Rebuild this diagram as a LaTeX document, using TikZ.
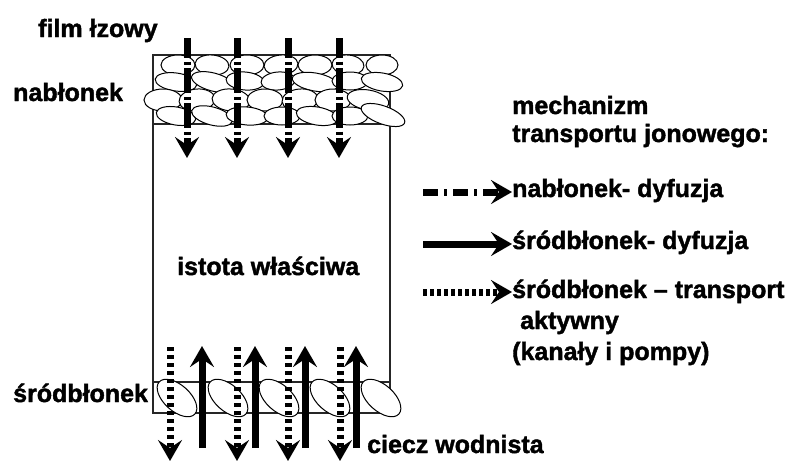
\documentclass[tikz,border=0pt]{standalone}
\usepackage{fontspec}
\setmainfont{Liberation Sans}[BoldFeatures={FakeBold=1.6}]
\usetikzlibrary{arrows.meta}

\tikzstyle{txt} = [font=\fontsize{25}{31}\selectfont\bfseries, inner sep=0pt, anchor=base west]
\tikzstyle{wall} = [draw=black!85, line width=1.3pt]
\tikzstyle{cell} = [draw=black, fill=white, line width=1pt]
\tikzstyle{flow} = [line width=7pt, -{Stealth[length=21pt,width=24pt,inset=8pt]}]
\tikzstyle{epiflow} = [flow, dash pattern=on 25pt off 3.5pt on 3pt off 3.5pt, dash phase=5pt]
\tikzstyle{pumpflow} = [flow, dash pattern=on 4pt off 4pt]

\begin{document}
\begin{tikzpicture}[x=1pt, y=-1pt]
\useasboundingbox (0,0) rectangle (790,461);

% Cornea block
\draw[wall] (153,55) rectangle (390,413);
\draw[wall] (153,124) -- (390,124);
\draw[wall] (153,382) -- (390,382);
\foreach \x in {205,257,307,358}
  \draw[wall] (\x,382) -- (\x,413);

% Epithelium cells
\foreach \cx/\cy/\rx/\ry/\rot in {
  178/65/17/10/0, 212/65/17/10/-5, 247/65/17/10/0, 281/65/17/10/5, 315/65/17/10/0, 348/65/16/10/-5, 382/65/16/10/0,
  176/82/21/9/-8, 213/82/22/9/-15, 245/81/19/9/-5, 278/81/17/9/5, 315/82/23/9/-10, 350/81/18/9/0, 382/82/21/9/-10,
  163/100/19/11/0, 197/100/18/11/5, 231/100/19/11/-5, 265/100/18/11/0, 300/100/18/11/5, 333/100/18/11/0, 368/100/21/10/-10,
  176/116/20/9/-10, 212/116/21/9/-15, 247/116/21/9/-5, 282/116/18/9/0, 317/116/21/9/-10, 350/116/18/9/0, 383/115/23/9/-20}
  \draw[cell, rotate around={\rot:(\cx,\cy)}] (\cx,\cy) ellipse [x radius=\rx, y radius=\ry];

% Endothelium cells
\foreach \cx in {177,228,279,330,381}
  \draw[cell, rotate around={-42:(\cx,398)}] (\cx,398) ellipse [x radius=24, y radius=13];

% Nodes
\node (film) [txt] at (38,37) {film łzowy};
\node (epi) [txt] at (13,101) {nabłonek};
\node (stroma) [txt] at (177,275) {istota właściwa};
\node (endo) [txt] at (13,402) {śródbłonek};
\node (aqueous) [txt] at (367,453) {ciecz wodnista};
\node (mech) [txt] at (512,114) {mechanizm};
\node (mechb) [txt] at (512,142) {transportu jonowego:};
\node (leg1) [txt] at (512,197) {nabłonek- dyfuzja};
\node (leg2) [txt] at (512,249) {śródbłonek- dyfuzja};
\node (leg3) [txt] at (512,298) {śródbłonek – transport};
\node (leg3b) [txt] at (520,329) {aktywny};
\node (leg3c) [txt] at (512,360) {(kanały i pompy)};

% Arrows through the epithelium
\foreach \x [count=\i] in {187,237,288,339} {
  \coordinate (tf\i) at (\x,38);
  \coordinate (bf\i) at (\x,158);
  \draw[epiflow] (tf\i) -- (bf\i);
}

% Arrows through the endothelium
\foreach \x [count=\i] in {170,237,288,340} {
  \coordinate (ts\i) at (\x,347);
  \coordinate (bs\i) at (\x,461);
  \draw[pumpflow] (ts\i) -- (bs\i);
}
\foreach \x [count=\i] in {202,255,305,356} {
  \coordinate (ua\i) at (\x,448);
  \coordinate (uh\i) at (\x,346);
  \draw[flow] (ua\i) -- (uh\i);
}

% Legend arrows
\coordinate (k1) at (423,192);
\coordinate (k2) at (423,244);
\coordinate (k3) at (423,292);
\draw[flow, dash pattern=on 15pt off 6pt on 3pt off 6pt] (k1) -- (leg1.west |- k1);
\draw[flow] (k2) -- (leg2.west |- k2);
\draw[pumpflow, dash pattern=on 3.5pt off 3.5pt] (k3) -- (leg3.west |- k3);

\end{tikzpicture}
\end{document}
